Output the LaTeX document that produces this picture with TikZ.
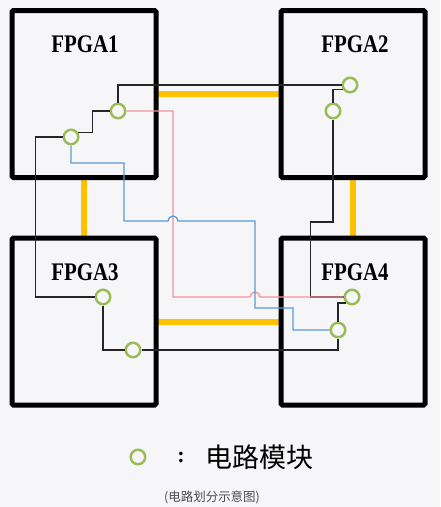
\documentclass[tikz,border=0pt]{standalone}
\usepackage{fontspec}
\setmainfont{Liberation Serif}
\newfontfamily\cjk{Noto Sans CJK SC}
\usetikzlibrary{backgrounds}

\definecolor{pagebg}{HTML}{F6F6F8}
\definecolor{modgreen}{HTML}{9BBB59}
\definecolor{linkyellow}{HTML}{FFC000}
\definecolor{wirered}{HTML}{F2949E}
\definecolor{wireblue}{HTML}{5B9BD5}

\begin{document}
\begin{tikzpicture}[x=1pt, y=-1pt,
  fpga/.style={draw=black, line width=5pt, rounded corners=1.5pt, fill=pagebg,
    minimum width=144pt, minimum height=167pt, inner sep=0pt},
  fpgalabel/.style={font=\fontsize{22}{22}\selectfont\bfseries, inner sep=0pt, yscale=1.15, xscale=0.95},
  module/.style={circle, draw=modgreen, line width=2.5pt, fill=pagebg,
    minimum size=14.5pt, inner sep=0pt},
  link/.style={draw=linkyellow, line width=6pt, shorten <=-3pt, shorten >=-3pt},
  wire/.style={draw=black!85, line width=1.1pt},
  redwire/.style={draw=wirered, line width=1.3pt},
  bluewire/.style={draw=wireblue, line width=1.3pt}]

% Chips
\node[fpga] (b1) at (84,94) {};
\node[fpga] (b2) at (353,94) {};
\node[fpga] (b3) at (84,321.5) {};
\node[fpga] (b4) at (353,321.5) {};
\node[fpgalabel] (t1) at (85,44) {FPGA1};
\node[fpgalabel] (t2) at (355,44) {FPGA2};
\node[fpgalabel] (t3) at (85,272) {FPGA3};
\node[fpgalabel] (t4) at (355,272) {FPGA4};

% Links between chips
\begin{scope}[on background layer]
  \fill[pagebg] (0,0) rectangle (440,507);
  \draw[link] (b1.east) -- (b2.west);
  \draw[link] (b1.south) -- (b3.north);
  \draw[link] (b2.south) -- (b4.north);
  \draw[link] (b3.east) -- (b4.west);
\end{scope}

% Circuit modules
\node[module] (m1a) at (118,111) {};
\node[module] (m1b) at (71,137) {};
\node[module] (m2a) at (350,85) {};
\node[module] (m2b) at (333,111) {};
\node[module] (m3a) at (103,297) {};
\node[module] (m3b) at (133,350) {};
\node[module] (m4a) at (352,297) {};
\node[module] (m4b) at (338,330) {};

% Wires
\draw[wire] (m1a) |- (m2a);
\draw[wire] (m1a.west) -- ++(-17,0) |- (m1b.30);
\draw[wire] (m1b.west) -- ++(-27,0) |- (m3a.west);
\draw[wire] (m3a) |- (m3b);
\draw[wire] (m3b) -| (m4b);
\draw[wire] (m4b) |- (m4a.225);
\draw[wire] (m4a.west) -- ++(-33,0) -- ++(0,-75) -| (m2b);
\draw[wire] (m2a.210) -| (m2b);
\draw[redwire] (m1a.east) -| (173,297) -- (250,297) arc (180:360:5) -- (m4a.west);
\draw[bluewire] (m1b) |- (124,163) -- (124,221) -- (168,221) arc (180:360:5)
  -- (255,221) -- (255,308) -- (293,308) |- (m4b.west);

% Legend
\node[module] (key) at (138,457) {};
\node[font=\fontsize{22}{22}\selectfont\bfseries] (colon) at (181,457) {:};
\node[font=\cjk\fontsize{27}{27}\selectfont, inner sep=0pt] (keytext) at (259,457) {电路模块};
\node[font=\cjk\fontsize{12.5}{12.5}\selectfont, text=black!70, inner sep=0pt] (caption) at (212,497) {(电路划分示意图)};
\end{tikzpicture}
\end{document}
